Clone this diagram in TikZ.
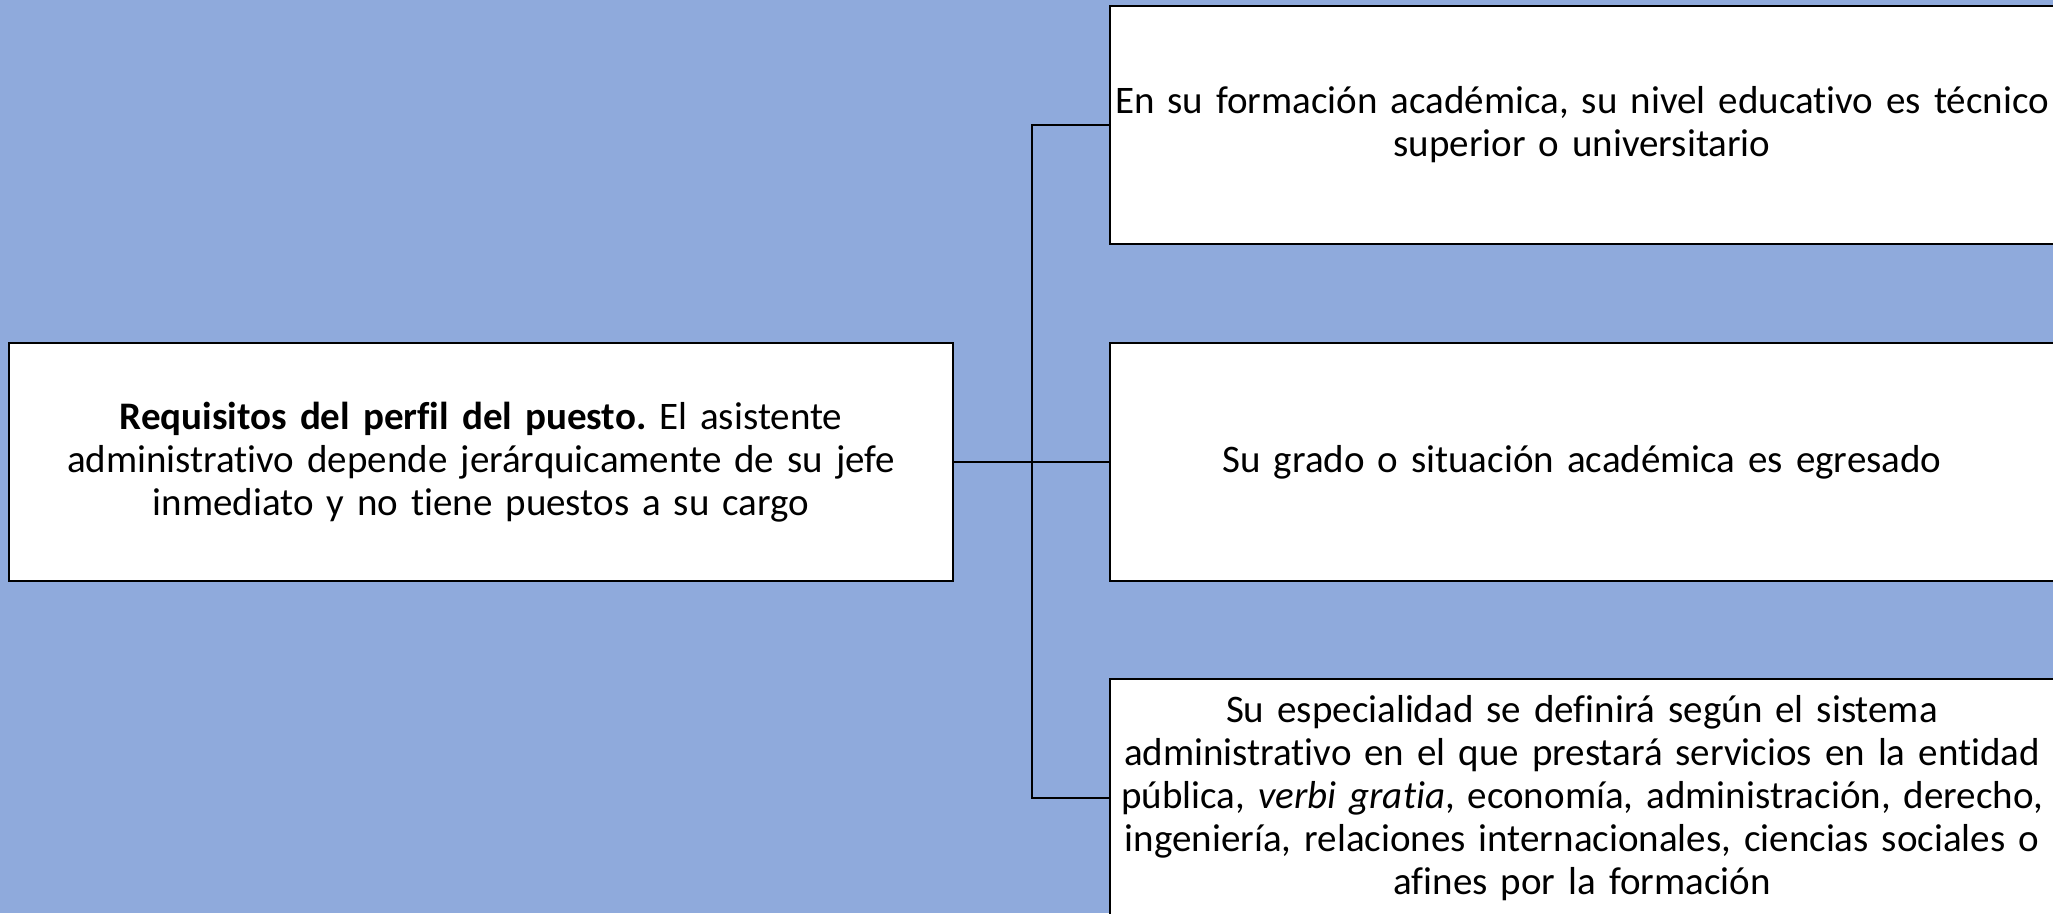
\documentclass[tikz,border=0pt]{standalone}
\usepackage{fontspec}
\setmainfont{Carlito}[Ligatures=NoCommon,WordSpace=0.8]
\definecolor{bg}{HTML}{8FAADC}
\frenchspacing
\begin{document}
\begin{tikzpicture}[x=1pt,y=-1pt,
  box/.style={draw=black, line width=2.5pt, fill=white, minimum width=944pt, minimum height=238pt,
    text width=940pt, align=center, font=\fontsize{39}{43}\selectfont, inner sep=0pt},
  conn/.style={draw=black, line width=2.5pt}]
\useasboundingbox[fill=bg] (0,0) rectangle (2053,913);
\node[box] (main) at (481,462) {\textbf{Requisitos del perfil del puesto.} El asistente\\administrativo depende jerárquicamente de su jefe\\inmediato y no tiene puestos a su cargo};
\node[box] (a) at (1582,125) {En su formación académica, su nivel educativo es técnico\\superior o universitario};
\node[box] (b) at (1582,462) {Su grado o situación académica es egresado};
\node[box] (c) at (1582,798) {Su especialidad se definirá según el sistema\\administrativo en el que prestará servicios en la entidad\\pública, \textit{verbi gratia}, economía, administración, derecho,\\ingeniería, relaciones internacionales, ciencias sociales o\\afines por la formación};
\coordinate (spine) at (1032,462);
\draw[conn] (main.east) -- (b.west);
\draw[conn] (a.west) -| (spine) |- (c.west);
\end{tikzpicture}
\end{document}
